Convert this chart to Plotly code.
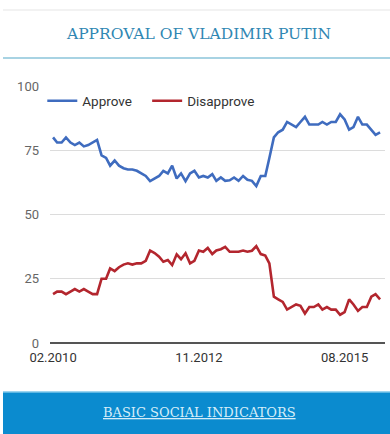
import plotly.graph_objects as go
import pandas as pd

approve = [80, 78, 78, 80, 78, 77, 78, 76.5, 77, 78, 79, 73, 72, 69, 71, 69, 68, 67.5, 67.5, 67,
           66, 65, 63, 64, 65, 67, 66, 69, 64, 66, 63, 66, 67, 64.4, 65, 64.4, 65.7, 63.1, 64.4, 63.1,
           63.3, 64.4, 63.1, 65, 63.5, 63.1, 61.1, 65, 65, 72, 80, 82, 83, 86, 85, 84, 86, 88, 85, 85,
           85, 86, 85, 86, 86, 89, 87, 83, 84, 88, 85, 85, 83, 81, 82]
disapprove = [19, 20, 20, 19, 20, 21, 20, 21, 20, 19, 19, 25, 25, 29, 28, 29.5, 30.5, 31, 30.5, 31,
              31, 32, 36, 35, 33.6, 31.6, 32.3, 30.3, 34.5, 32.6, 34.9, 31, 32, 36, 35.5, 37, 34.6, 36, 36.5, 37.4,
              35.5, 35.5, 35.5, 36, 35.5, 35.9, 37.7, 34.6, 34, 31, 18, 17, 16, 13, 14, 15, 14.5, 11.5, 14, 14,
              15, 13, 14, 13, 13, 11, 12, 17, 15, 12.5, 14, 14, 18, 19, 17]
months = pd.date_range("2010-02-01", periods=len(approve), freq="MS")

tick_vals = ["2010-02-01", "2012-11-01", "2015-08-01"]
tick_text = ["02.2010", "11.2012", "08.2015"]
y_ticks = [0, 25, 50, 75, 100]

title_text = "APPROVAL OF VLADIMIR PUTIN"
footer_text = "BASIC SOCIAL INDICATORS"

fig = go.Figure()
fig.add_trace(go.Scatter(x=months, y=approve, mode="lines", name="Approve", legend="legend",
                         line=dict(color="#3f6cbf", width=2.6)))
fig.add_trace(go.Scatter(x=months, y=disapprove, mode="lines", name="Disapprove", legend="legend2",
                         line=dict(color="#b3262e", width=2.6)))

leg_common = dict(orientation="h", yanchor="middle", xanchor="left",
                  font=dict(family="Roboto", size=13.5, color="#333"),
                  bgcolor="rgba(0,0,0,0)", itemwidth=30)

fig.update_layout(
    width=390, height=434,
    margin=dict(l=50, r=5, t=86, b=91),
    paper_bgcolor="white", plot_bgcolor="white",
    font=dict(family="Roboto", size=12, color="#444"),
    showlegend=True,
    legend=dict(x=-0.023, y=0.942, **leg_common),
    legend2=dict(x=0.29, y=0.942, **leg_common),
    xaxis=dict(range=["2010-01-11", "2016-05-05"], tickvals=tick_vals, ticktext=tick_text,
               showgrid=False, zeroline=False, showline=False,
               tickfont=dict(family="Roboto", size=13, color="#333"), ticks="", ticklabelstandoff=5),
    yaxis=dict(range=[0, 100], tickvals=y_ticks, showgrid=True, gridcolor="#dcdcdc", gridwidth=1,
               zeroline=True, zerolinecolor="#555", zerolinewidth=1.5,
               tickfont=dict(family="Roboto", size=13, color="#666"), ticks="", ticklabelstandoff=10),
    shapes=[
        dict(type="line", xref="paper", yref="paper", x0=-0.1403, x1=1.015, y0=1.2957, y1=1.2957,
             line=dict(color="#eeeeee", width=1.5)),
        dict(type="line", xref="paper", yref="paper", x0=-0.1403, x1=1.015, y0=1.109, y1=1.109,
             line=dict(color="#a8d3e3", width=2)),
        dict(type="rect", xref="paper", yref="paper", x0=-0.1403, x1=1.015, y0=-0.354, y1=-0.1907,
             fillcolor="#0b8bcf", line=dict(width=0), layer="above"),
        dict(type="line", xref="paper", yref="paper", x0=-0.1403, x1=1.015, y0=-0.1907, y1=-0.1907,
             line=dict(color="#7cc6ea", width=1.5)),
    ],
    annotations=[
        dict(text=title_text, xref="paper", yref="paper", x=0.443, y=1.202, showarrow=False,
             xanchor="center", yanchor="middle",
             font=dict(family="DejaVu Serif", size=15.5, color="#2f87b3")),
        dict(text="<u>" + footer_text + "</u>", xref="paper", yref="paper", x=0.445, y=-0.272,
             showarrow=False, xanchor="center", yanchor="middle",
             font=dict(family="DejaVu Serif", size=13, color="#d5eef9")),
    ],
)

fig.write_html("out.html", config={"displayModeBar": False},
               post_script="document.body.style.margin='0';document.body.style.overflow='hidden';")
